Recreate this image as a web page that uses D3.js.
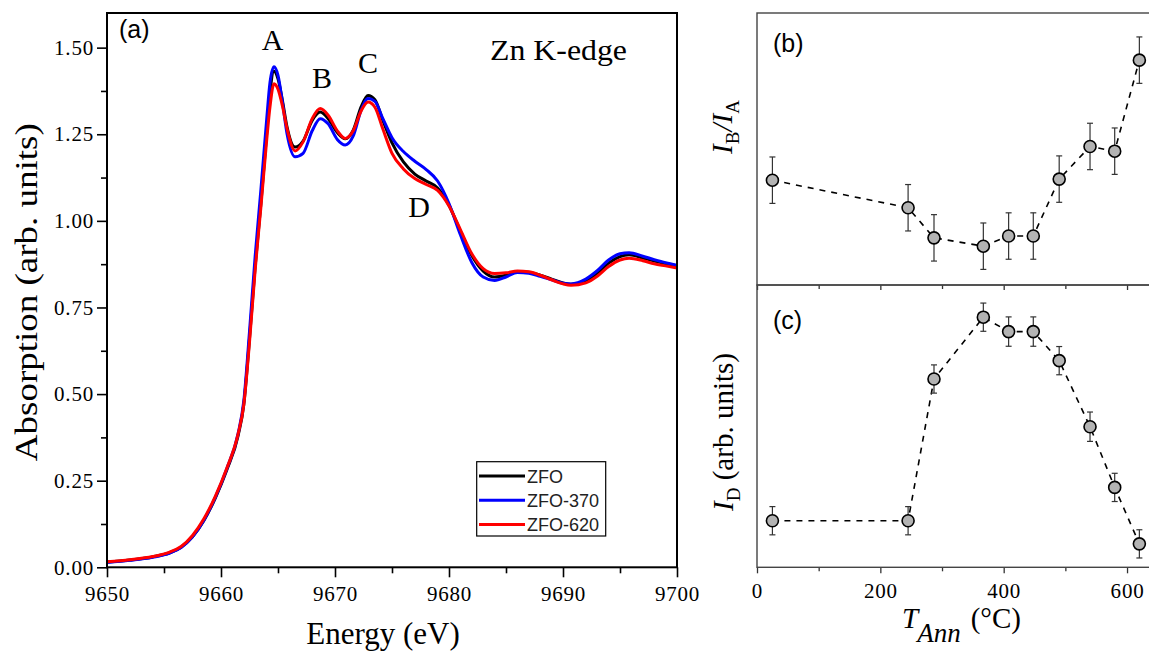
<!DOCTYPE html>
<html>
<head>
<meta charset="utf-8">
<script src="https://cdn.jsdelivr.net/npm/d3@7"></script>
<style>
  body { margin: 0; background: #fff; }
  svg { display: block; }
</style>
</head>
<body>
<svg id="chart" width="1149" height="655"></svg>
<script>
// ---- Zn K-edge XANES spectra (panel a) ----
const energy = [9650, 9652, 9654, 9655.5, 9656.5, 9657.5, 9658.5, 9659.5, 9660.5, 9661.5,
  9662, 9662.5, 9663, 9663.5, 9664, 9664.3, 9664.65, 9665, 9665.4, 9665.8,
  9666.5, 9667.2, 9668, 9668.7, 9669.4, 9670.2, 9670.9, 9671.6, 9672.3, 9672.9,
  9673.5, 9674.2, 9675, 9676, 9677, 9678, 9679, 9680, 9681, 9682,
  9683, 9684, 9685, 9686, 9687, 9688, 9689, 9690, 9690.7, 9692,
  9693, 9694, 9695, 9695.8, 9697, 9698, 9699, 9700];

const zfo = [0.015, 0.021, 0.030, 0.042, 0.058, 0.088, 0.135, 0.200, 0.280, 0.380,
  0.470, 0.660, 0.870, 1.050, 1.250, 1.370, 1.432, 1.410, 1.345, 1.270,
  1.213, 1.230, 1.290, 1.314, 1.295, 1.255, 1.237, 1.262, 1.330, 1.362,
  1.350, 1.290, 1.225, 1.170, 1.135, 1.115, 1.095, 1.045, 0.970, 0.900,
  0.855, 0.838, 0.843, 0.853, 0.852, 0.843, 0.832, 0.821, 0.817, 0.826,
  0.848, 0.878, 0.897, 0.902, 0.893, 0.884, 0.877, 0.870];

const zfo370 = [0.014, 0.020, 0.029, 0.041, 0.057, 0.088, 0.136, 0.202, 0.284, 0.386,
  0.480, 0.680, 0.900, 1.090, 1.290, 1.400, 1.445, 1.420, 1.340, 1.250,
  1.185, 1.195, 1.260, 1.295, 1.280, 1.235, 1.219, 1.245, 1.320, 1.353,
  1.345, 1.295, 1.240, 1.200, 1.172, 1.148, 1.115, 1.050, 0.960, 0.880,
  0.838, 0.828, 0.838, 0.851, 0.849, 0.840, 0.830, 0.820, 0.818, 0.832,
  0.856, 0.887, 0.905, 0.908, 0.898, 0.888, 0.879, 0.872];

const zfo620 = [0.016, 0.022, 0.031, 0.044, 0.060, 0.092, 0.140, 0.205, 0.285, 0.385,
  0.470, 0.650, 0.860, 1.040, 1.230, 1.330, 1.396, 1.380, 1.330, 1.265,
  1.202, 1.228, 1.295, 1.324, 1.305, 1.260, 1.238, 1.260, 1.318, 1.343,
  1.328, 1.265, 1.195, 1.150, 1.122, 1.105, 1.088, 1.043, 0.975, 0.905,
  0.862, 0.848, 0.850, 0.855, 0.853, 0.843, 0.830, 0.818, 0.814, 0.821,
  0.840, 0.868, 0.887, 0.892, 0.885, 0.876, 0.870, 0.864];

const seriesNames = ["ZFO", "ZFO-370", "ZFO-620"];
const seriesColors = ["#000000", "#0000ff", "#ff0000"];

const xTicksA = [9650, 9660, 9670, 9680, 9690, 9700];
const yTicksA = [0, 0.25, 0.5, 0.75, 1.0, 1.25, 1.5];

// ---- Annealing temperature dependence (panels b, c) ----
const annealT = [25, 245, 287, 367, 408, 448, 490, 540, 580, 620];
const ratioBA = [0.9089, 0.9013, 0.8930, 0.8907, 0.8935, 0.8935, 0.9092, 0.9182, 0.9169, 0.9420];
const ratioErr = [0.0064, 0.0064, 0.0064, 0.0064, 0.0064, 0.0064, 0.0064, 0.0064, 0.0064, 0.0064];
const intensityD = [0.165, 0.165, 0.667, 0.886, 0.835, 0.835, 0.732, 0.498, 0.283, 0.083];
const intensityErr = [0.05, 0.05, 0.05, 0.05, 0.052, 0.052, 0.05, 0.052, 0.05, 0.05];
const xTicksT = [0, 200, 400, 600];
const xMinorT = [100, 300, 500];

const SERIF = "'Liberation Serif', 'Times New Roman', serif";
const SANS = "'Liberation Sans', Arial, sans-serif";

const svg = d3.select("#chart");

function styleTicks(g, labelSize) {
  g.select(".domain").remove();
  g.selectAll("line").attr("stroke", "#000").attr("stroke-width", 1.6);
  if (labelSize) {
    g.selectAll("text").attr("font-family", null)
      .style("font-family", SERIF).style("font-size", labelSize + "px")
      .style("letter-spacing", "0.8px").attr("fill", "#000");
  }
}

// ================= Panel (a) =================
const A = { left: 107, right: 677, top: 13, bottom: 567.3 };
const xA = d3.scaleLinear().domain([9650, 9700]).range([A.left, A.right]);
const yA = d3.scaleLinear().domain([0, 1.6]).range([A.bottom, A.top]);

const gA = svg.append("g");

// minor ticks
gA.append("g").attr("transform", `translate(0,${A.bottom})`)
  .call(d3.axisBottom(xA).tickValues(d3.range(9655, 9700, 10)).tickSize(6).tickFormat(""))
  .call(g => styleTicks(g));
gA.append("g").attr("transform", `translate(${A.left},0)`)
  .call(d3.axisLeft(yA).tickValues(d3.range(0.125, 1.6, 0.25)).tickSize(6).tickFormat(""))
  .call(g => styleTicks(g));

// major ticks with labels
gA.append("g").attr("transform", `translate(0,${A.bottom})`)
  .call(d3.axisBottom(xA).tickValues(xTicksA).tickSize(10).tickPadding(9).tickFormat(d3.format("d")))
  .call(g => styleTicks(g, 21));
gA.append("g").attr("transform", `translate(${A.left},0)`)
  .call(d3.axisLeft(yA).tickValues(yTicksA).tickSize(10).tickPadding(3).tickFormat(d3.format(".2f")))
  .call(g => styleTicks(g, 21));

// clipped spectra
svg.append("clipPath").attr("id", "clipA").append("rect")
  .attr("x", A.left).attr("y", A.top).attr("width", A.right - A.left).attr("height", A.bottom - A.top);

const lineA = d3.line().x(d => xA(d[0])).y(d => yA(d[1])).curve(d3.curveMonotoneX);
[zfo, zfo370, zfo620].forEach((vals, i) => {
  gA.append("path")
    .datum(energy.map((e, j) => [e, vals[j]]))
    .attr("clip-path", "url(#clipA)")
    .attr("fill", "none")
    .attr("stroke", seriesColors[i])
    .attr("stroke-width", 3)
    .attr("stroke-linejoin", "round")
    .attr("d", lineA);
});

// frame
gA.append("rect").attr("x", A.left).attr("y", A.top)
  .attr("width", A.right - A.left).attr("height", A.bottom - A.top)
  .attr("fill", "none").attr("stroke", "#000").attr("stroke-width", 2);

// labels
gA.append("text").style("font-family", SANS).attr("x", 119).attr("y", 38)
  .style("font-size", "25px").text("(a)");
const peakLabels = [["A", 272.5, 50], ["B", 322, 88], ["C", 368, 73], ["D", 419, 217]];
peakLabels.forEach(([t, x, y]) => {
  gA.append("text").style("font-family", SERIF).attr("x", x).attr("y", y)
    .attr("text-anchor", "middle").style("font-size", "30px").text(t);
});
gA.append("text").style("font-family", SERIF).attr("x", 490).attr("y", 60)
  .style("font-size", "30px").attr("textLength", 137).attr("lengthAdjust", "spacingAndGlyphs")
  .text("Zn K-edge");

// axis titles
gA.append("text").style("font-family", SERIF).attr("x", (A.left + A.right) / 2 - 9).attr("y", 644)
  .attr("text-anchor", "middle").style("font-size", "31px").text("Energy (eV)");
gA.append("text").style("font-family", SERIF)
  .attr("transform", `translate(37,${(A.top + A.bottom) / 2 + 2}) rotate(-90)`)
  .attr("text-anchor", "middle").style("font-size", "31px")
  .attr("textLength", 338).attr("lengthAdjust", "spacingAndGlyphs")
  .text("Absorption (arb. units)");

// legend
const leg = gA.append("g");
leg.append("rect").attr("x", 476.7).attr("y", 461.7).attr("width", 129).attr("height", 74.3)
  .attr("fill", "#fff").attr("stroke", "#000").attr("stroke-width", 1.2);
seriesNames.forEach((name, i) => {
  const y = 476 + i * 24.2;
  leg.append("line").attr("x1", 479).attr("x2", 525).attr("y1", y).attr("y2", y)
    .attr("stroke", seriesColors[i]).attr("stroke-width", 3);
  leg.append("text").style("font-family", SANS).attr("x", 527).attr("y", y + 6.5)
    .style("font-size", "18px").attr("fill", "#222").text(name);
});

// ================= Panels (b) and (c) =================
const R = { left: 757, right: 1151.7, top: 13, mid: 285, bottom: 567.3 };
const xT = d3.scaleLinear().domain([0, 640]).range([R.left, R.right]);
const yB = d3.scaleLinear().domain([0.88, 0.955]).range([R.mid, R.top]);
const yC = d3.scaleLinear().domain([0, 1]).range([R.bottom, R.mid]);

const gR = svg.append("g");

function tempTicks(yPos, vals, size, labels) {
  const ax = d3.axisBottom(xT).tickValues(vals).tickSize(size).tickPadding(10)
    .tickFormat(labels ? d3.format("d") : "");
  gR.append("g").attr("transform", `translate(0,${yPos})`)
    .call(ax)
    .call(g => styleTicks(g, labels ? 21 : 0))
    .call(g => g.selectAll("line").attr("stroke", "#333").attr("stroke-width", 1.3));
}
tempTicks(R.mid, xMinorT, 4, false);
tempTicks(R.bottom, xMinorT, 4, false);
tempTicks(R.mid, xTicksT, 5, false);
tempTicks(R.bottom, xTicksT, 6, true);

// panel frames
[[R.top, R.mid], [R.mid, R.bottom]].forEach(([t, b]) => {
  gR.append("rect").attr("x", R.left).attr("y", t)
    .attr("width", R.right - R.left).attr("height", b - t)
    .attr("fill", "none").attr("stroke", "#444").attr("stroke-width", 1.4);
});

function scatterPanel(values, errs, yScale) {
  const g = gR.append("g");
  const pts = annealT.map((t, i) => [t, values[i], errs[i]]);
  g.append("path").datum(pts)
    .attr("fill", "none").attr("stroke", "#000").attr("stroke-width", 1.6)
    .attr("stroke-dasharray", "6,6")
    .attr("d", d3.line().x(d => xT(d[0])).y(d => yScale(d[1])));
  const eb = g.selectAll("g.err").data(pts).join("g").attr("class", "err")
    .attr("stroke", "#333").attr("stroke-width", 1.2);
  eb.append("line").attr("x1", d => xT(d[0])).attr("x2", d => xT(d[0]))
    .attr("y1", d => yScale(d[1] - d[2])).attr("y2", d => yScale(d[1] + d[2]));
  eb.append("line").attr("x1", d => xT(d[0]) - 3).attr("x2", d => xT(d[0]) + 3)
    .attr("y1", d => yScale(d[1] + d[2])).attr("y2", d => yScale(d[1] + d[2]));
  eb.append("line").attr("x1", d => xT(d[0]) - 3).attr("x2", d => xT(d[0]) + 3)
    .attr("y1", d => yScale(d[1] - d[2])).attr("y2", d => yScale(d[1] - d[2]));
  g.selectAll("circle").data(pts).join("circle")
    .attr("cx", d => xT(d[0])).attr("cy", d => yScale(d[1])).attr("r", 6)
    .attr("fill", "#b3b3b3").attr("stroke", "#000").attr("stroke-width", 1.6);
}
scatterPanel(ratioBA, ratioErr, yB);
scatterPanel(intensityD, intensityErr, yC);

gR.append("text").style("font-family", SANS).attr("x", 773).attr("y", 52).style("font-size", "25px").text("(b)");
gR.append("text").style("font-family", SANS).attr("x", 773).attr("y", 329).style("font-size", "25px").text("(c)");

// y titles (rotated)
const tb = gR.append("text").style("font-family", SERIF)
  .attr("transform", "translate(732,127) rotate(-90)")
  .attr("text-anchor", "middle").style("font-size", "29px");
tb.append("tspan").attr("font-style", "italic").text("I");
tb.append("tspan").style("font-size", "19px").attr("dy", 7).text("B");
tb.append("tspan").attr("dy", -7).attr("font-style", "italic").text("/");
tb.append("tspan").attr("font-style", "italic").text("I");
tb.append("tspan").style("font-size", "19px").attr("dy", 7).text("A");

const tc = gR.append("text").style("font-family", SERIF)
  .attr("transform", "translate(733,432) rotate(-90)")
  .attr("text-anchor", "middle").style("font-size", "29px");
tc.append("tspan").attr("font-style", "italic").text("I");
tc.append("tspan").style("font-size", "19px").attr("dy", 7).text("D");
tc.append("tspan").attr("dy", -7).text(" (arb. units)");

// x title
const tx = gR.append("text").style("font-family", SERIF).attr("x", 902).attr("y", 628).style("font-size", "29px");
tx.append("tspan").attr("font-style", "italic").text("T");
tx.append("tspan").attr("font-style", "italic").style("font-size", "27px").attr("dy", 14).attr("dx", -1).text("Ann");
tx.append("tspan").attr("dy", -14).attr("dx", 10).text("(°C)");
</script>
</body>
</html>
